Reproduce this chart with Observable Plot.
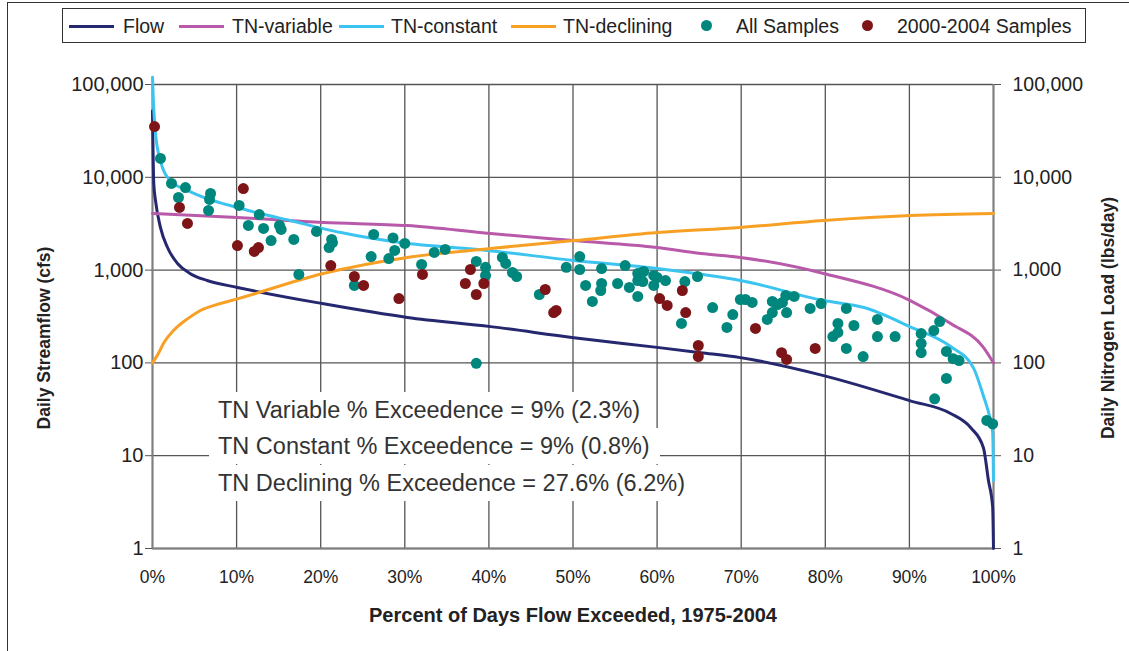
<!DOCTYPE html>
<html>
<head>
<meta charset="utf-8">
<script src="https://cdn.jsdelivr.net/npm/d3@7"></script>
<script src="https://cdn.jsdelivr.net/npm/@observablehq/plot@0.6"></script>
<style>
  body { margin: 0; background: #fff; font-family: "Liberation Sans", Arial, sans-serif; }
  #wrap { position: relative; width: 1129px; height: 651px; overflow: hidden; background: #fff; }
  #frame { position: absolute; left: 7px; top: 2px; width: 1200px; height: 700px;
           border-left: 1.5px solid #333; border-top: 1.5px solid #333; pointer-events: none; }
  #legend { position: absolute; left: 62px; top: 8px; width: 1022px; height: 33px;
            border: 1.5px solid #333; background: #fff; }
  #chart { position: absolute; left: 0; top: 50px; }
  .sw { position: absolute; height: 3px; top: 16px; }
  .dotsw { position: absolute; width: 11px; height: 11px; border-radius: 50%; top: 11px; }
  .lt { position: absolute; top: 0; line-height: 34px; font-size: 19.5px; color: #222; white-space: nowrap; }
  .note { position: absolute; left: 209px; height: 36px; line-height: 36px; padding: 0 10px 0 9px;
          background: #fff; font-size: 23.5px; color: #333; white-space: nowrap; }
  .ytitle { position: absolute; font-weight: bold; font-size: 17.5px; color: #222; white-space: nowrap;
            transform: translate(-50%, -50%) rotate(-90deg); line-height: 1; }
</style>
</head>
<body>
<div id="wrap">
  <div id="chart"></div>
  <div id="legend"></div>
  <div id="notes"></div>
  <div id="titles"></div>
  <div id="frame"></div>
</div>
<script>
// ---------------- data ----------------
const seriesNames = ["Flow", "TN-variable", "TN-constant", "TN-declining", "All Samples", "2000-2004 Samples"];

const xTicks = [0, 10, 20, 30, 40, 50, 60, 70, 80, 90, 100];
const yTicks = [1, 10, 100, 1000, 10000, 100000];

// Flow duration curve (percent exceeded, cfs)
const flowPct = [0, 0.15, 0.36, 0.95, 1.8, 3.0, 4.5, 6.5, 10.1, 20.2, 30.3, 40.2, 50.1, 60.0, 65.2, 69.9, 79.8, 90.1, 94.9, 97.3, 98.8, 99.4, 99.9, 100];
const flowVal = [52000, 8600, 5600, 2870, 1740, 1170, 915, 772, 650, 436, 309, 246, 187, 147, 129, 114, 73, 39, 28.5, 20, 12.2, 5.4, 2.8, 1];

// TN-variable load curve (lbs/day)
const tnVarPct = [0, 10.1, 20.3, 30.3, 40.2, 50.1, 60.0, 65.2, 69.9, 79.8, 90.1, 94.9, 98.8, 100];
const tnVarVal = [4070, 3690, 3260, 3020, 2480, 2080, 1750, 1510, 1370, 920, 470, 266, 147, 100];

// TN-constant load curve (lbs/day)
const tnConPct = [0, 0.1, 0.36, 0.95, 2.1, 4.2, 6.5, 10.1, 12.8, 16.4, 20.3, 22.4, 29.5, 39.8, 50.1, 60.0, 65.2, 69.9, 79.8, 84.6, 90.1, 94.9, 97.6, 98.8, 99.6, 99.9, 100];
const tnConVal = [120000, 67000, 29600, 15000, 9240, 7200, 5900, 4730, 4070, 3420, 2800, 2540, 1980, 1630, 1270, 1040, 900, 773, 470, 395, 245, 150, 89, 44, 25, 18, 5.4];

// TN-declining load curve (lbs/day)
const tnDecPct = [0, 0.7, 1.3, 2.5, 4.2, 5.7, 8.1, 10.1, 20.3, 30.3, 40.2, 50.1, 60.0, 69.9, 79.8, 90.1, 100];
const tnDecVal = [100, 126, 162, 223, 300, 367, 437, 490, 920, 1370, 1710, 2080, 2540, 2880, 3420, 3870, 4070];

// All samples (percent exceeded, lbs/day)
const allPct = [0.95, 2.26, 3.92, 3.09, 6.9, 6.78, 6.66, 10.3, 12.7, 11.4, 13.2, 15.1, 15.3, 14.1, 16.8, 19.5, 21.3, 21.4, 21.0, 17.4,
  24.0, 26.3, 28.6, 30.0, 28.8, 28.1, 26.0, 32.0, 33.5, 34.8, 38.5, 39.6, 39.6, 41.6, 42.0, 42.8, 43.3, 46.0, 38.5, 49.2,
  50.8, 50.8, 51.5, 53.4, 53.4, 53.3, 52.3, 55.3, 56.2, 56.7, 57.7, 58.4, 57.7, 58.3, 57.7, 59.6, 60.0, 59.6, 61.0, 63.3,
  64.8, 62.9, 66.6, 69.0, 68.3, 69.9, 70.5, 71.3, 73.7, 74.3, 74.9, 75.3, 76.3, 73.7, 73.1, 75.4, 78.2, 79.5, 82.5, 81.5,
  81.5, 80.9, 83.4, 82.5, 84.5, 86.2, 86.2, 88.3, 91.4, 91.4, 91.4, 92.9, 93.6, 94.4, 95.2, 95.9, 94.4, 93.0, 99.2, 99.9];
const allVal = [15950, 8580, 7760, 6060, 6690, 5770, 4390, 4970, 3970, 3030, 2810, 3030, 2740, 2080, 2140, 2610, 2140, 1980, 1750, 897,
  683, 2420, 2220, 1940, 1630, 1330, 1400, 1150, 1550, 1670, 1240, 1070, 875, 1370, 1180, 942, 853, 546, 99, 1070,
  1400, 1015, 683, 1040, 717, 603, 459, 717, 1120, 650, 919, 966, 772, 753, 520, 875, 832, 683, 772, 753,
  853, 266, 395, 332, 241, 482, 482, 448, 459, 426, 448, 532, 520, 349, 294, 349, 386, 436, 386, 266,
  213, 192, 253, 143, 117, 294, 192, 192, 207, 162, 129, 223, 279, 133, 111, 106, 68, 41, 24, 22];

// 2000-2004 samples
const recentPct = [0.24, 3.21, 4.16, 10.8, 10.1, 12.6, 12.1, 21.2, 24.0, 25.1, 29.3, 32.1, 37.8, 37.2, 39.4, 38.5, 46.7, 48.0, 47.7,
  60.3, 61.2, 63.0, 63.4, 64.9, 64.9, 71.7, 74.8, 75.4, 78.8];
const recentVal = [35250, 4730, 3180, 7570, 1840, 1750, 1590, 1120, 853, 683, 494, 897, 1015, 717, 717, 546, 618, 367, 349,
  494, 416, 603, 349, 154, 117, 235, 129, 109, 143];

const xTitle = "Percent of Days Flow Exceeded, 1975-2004";
const yLeftTitle = "Daily Streamflow (cfs)";
const yRightTitle = "Daily Nitrogen Load (lbs/day)";
const notes = [
  "TN Variable % Exceedence = 9% (2.3%)",
  "TN Constant % Exceedence = 9% (0.8%)",
  "TN Declining % Exceedence = 27.6% (6.2%)"
];

// ---------------- styles ----------------
const colors = {
  "Flow": "#25276f",
  "TN-variable": "#b85aa9",
  "TN-constant": "#3cc4f0",
  "TN-declining": "#f7a024",
  "All Samples": "#00877d",
  "2000-2004 Samples": "#7d1518"
};

// ---------------- build ----------------
const toRows = (pcts, vals, name) => pcts.map((p, i) => ({pct: p, value: vals[i], series: name}));
const lineSeries = [
  toRows(flowPct, flowVal, "Flow"),
  toRows(tnVarPct, tnVarVal, "TN-variable"),
  toRows(tnConPct, tnConVal, "TN-constant"),
  toRows(tnDecPct, tnDecVal, "TN-declining")
];
const allRows = toRows(allPct, allVal, "All Samples");
const recentRows = toRows(recentPct, recentVal, "2000-2004 Samples");

const gridStyle = {stroke: "#555", strokeOpacity: 1, strokeWidth: 1.3};

const chart = Plot.plot({
  width: 1129,
  height: 601,
  marginTop: 34,
  marginBottom: 103,
  marginLeft: 152,
  marginRight: 136,
  style: {fontFamily: "'Liberation Sans', Arial, sans-serif", color: "#222", background: "white", overflow: "visible"},
  x: {domain: [0, 100]},
  y: {type: "log", domain: [1, 100000]},
  marks: [
    Plot.gridX(xTicks, gridStyle),
    Plot.gridY(yTicks, gridStyle),
    Plot.ruleX([0], {stroke: "#808080", strokeWidth: 2}),
    Plot.ruleY([1], {stroke: "#808080", strokeWidth: 2}),
    Plot.ruleX([100], {stroke: "#808080", strokeWidth: 2}),
    Plot.axisX(xTicks, {tickSize: 0, tickPadding: 22, tickFormat: d => d + "%", fontSize: 17.5, label: null}),
    Plot.axisY(yTicks, {anchor: "left", tickSize: 7, tickPadding: 2, tickFormat: d3.format(","), fontSize: 20, label: null, stroke: "#555"}),
    Plot.axisY(yTicks, {anchor: "right", tickSize: 7, tickPadding: 12, tickFormat: d3.format(","), fontSize: 19.5, label: null, stroke: "#555"}),
    ...lineSeries.map(rows => Plot.line(rows, {x: "pct", y: "value", stroke: colors[rows[0].series], strokeWidth: 3, curve: "monotone-x"})),
    Plot.dot(allRows, {x: "pct", y: "value", r: 5.5, fill: colors["All Samples"], stroke: "none"}),
    Plot.dot(recentRows, {x: "pct", y: "value", r: 5.5, fill: colors["2000-2004 Samples"], stroke: "none"}),
    Plot.text([xTitle], {frameAnchor: "bottom", dy: 67, fontSize: 20, fontWeight: "bold", fill: "#222", lineAnchor: "middle"})
  ]
});
document.getElementById("chart").appendChild(chart);

// axis titles (rotated)
const titlesEl = document.getElementById("titles");
[[yLeftTitle, 45, 338], [yRightTitle, 1109, 318]].forEach(([s, cx, cy]) => {
  const d = document.createElement("div");
  d.className = "ytitle";
  d.style.left = cx + "px";
  d.style.top = cy + "px";
  d.textContent = s;
  titlesEl.appendChild(d);
});

// legend
const legendLayout = [
  {sw: 6, tx: 60}, {sw: 116, tx: 169}, {sw: 276, tx: 328}, {sw: 448, tx: 500}, {sw: 638, tx: 673}, {sw: 799, tx: 834}
];
const legend = document.getElementById("legend");
seriesNames.forEach((name, i) => {
  const L = legendLayout[i];
  const sw = document.createElement("div");
  if (i < 4) {
    sw.className = "sw";
    sw.style.left = L.sw + "px";
    sw.style.width = "45px";
  } else {
    sw.className = "dotsw";
    sw.style.left = L.sw + "px";
  }
  sw.style.background = colors[name];
  legend.appendChild(sw);
  const t = document.createElement("div");
  t.className = "lt";
  t.style.left = L.tx + "px";
  t.textContent = name;
  legend.appendChild(t);
});

// annotation text boxes
const noteTops = [392, 428, 465];
const notesEl = document.getElementById("notes");
notes.forEach((s, i) => {
  const d = document.createElement("div");
  d.className = "note";
  d.style.top = noteTops[i] + "px";
  d.textContent = s;
  notesEl.appendChild(d);
});
</script>
</body>
</html>
